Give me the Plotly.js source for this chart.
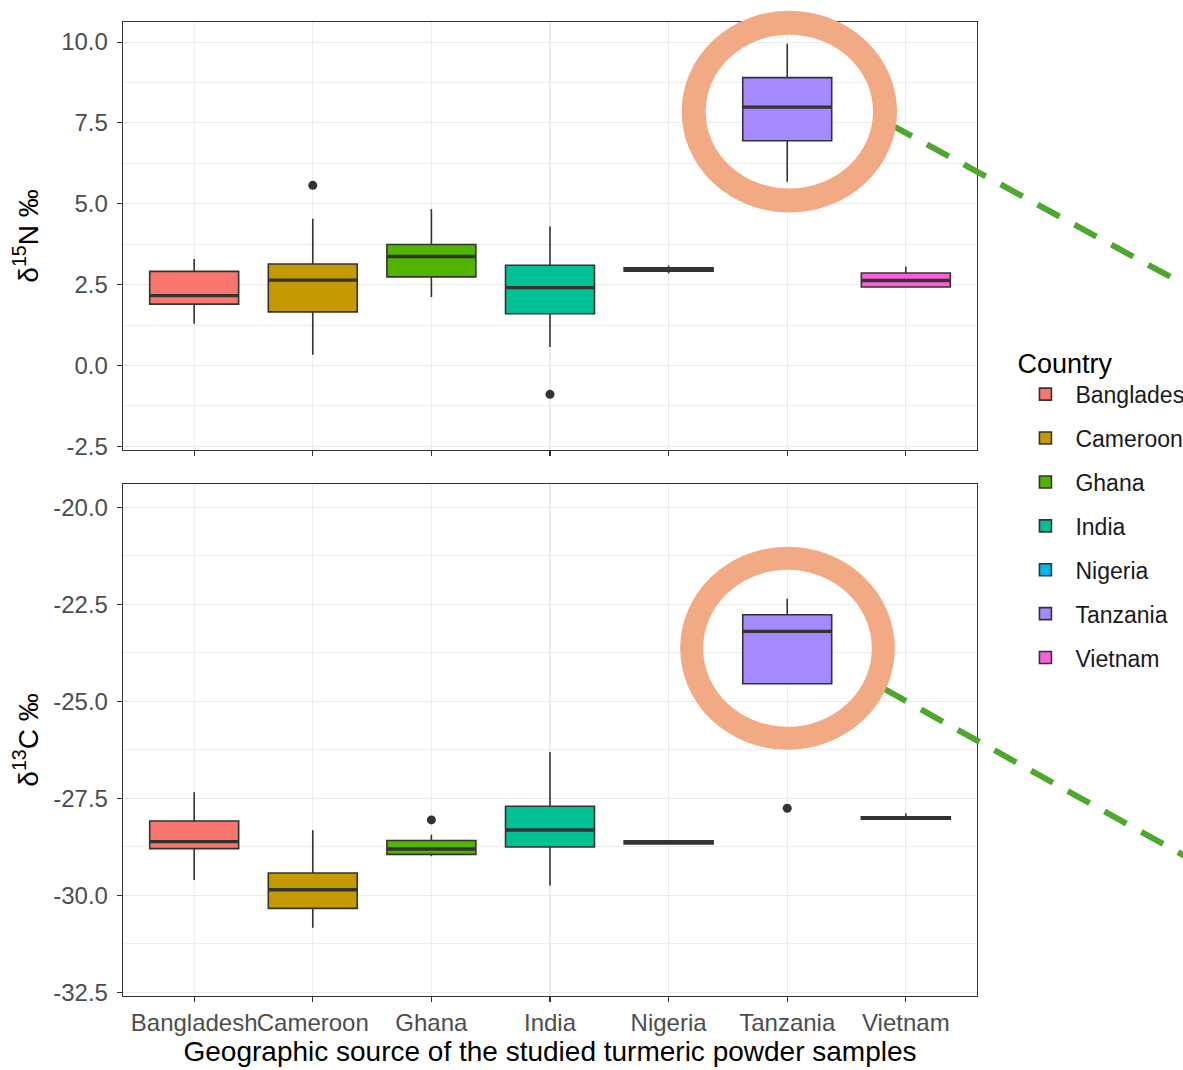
<!DOCTYPE html>
<html>
<head>
<meta charset="utf-8">
<script src="https://cdn.plot.ly/plotly-3.0.1.min.js"></script>
<style>html,body{margin:0;padding:0;background:#fff;}#chart{width:1183px;height:1070px;}</style>
</head>
<body>
<div id="chart"></div>
<script>
// ---- data ----
const countries = ['Bangladesh','Cameroon','Ghana','India','Nigeria','Tanzania','Vietnam'];
const colors = ['#F8766D','#C49A00','#53B400','#00C094','#00B6EB','#A58AFF','#FB61D7'];

// delta 15N (per mil)
const n15Lower = [1.29, 0.33, 2.12, 0.57, 2.85, 5.68, 2.43];
const n15Q1    = [1.90, 1.66, 2.74, 1.60, 2.92, 6.95, 2.43];
const n15Med   = [2.16, 2.64, 3.37, 2.41, 2.97, 7.99, 2.63];
const n15Q3    = [2.91, 3.14, 3.74, 3.10, 3.02, 8.90, 2.86];
const n15Upper = [3.29, 4.54, 4.84, 4.30, 3.09, 9.95, 3.06];
const n15OutX  = ['Cameroon','India'];
const n15OutY  = [5.57, -0.89];

// delta 13C (per mil)
const c13Lower = [-29.61, -30.84, -29.00, -29.75, -28.70, -24.55, -28.05];
const c13Q1    = [-28.80, -30.34, -28.95, -28.76, -28.68, -24.55, -28.04];
const c13Med   = [-28.62, -29.86, -28.81, -28.32, -28.64, -23.20, -28.01];
const c13Q3    = [-28.09, -29.43, -28.59, -27.71, -28.60, -22.77, -27.98];
const c13Upper = [-27.35, -28.33, -28.44, -26.31, -28.58, -22.36, -27.89];
const c13OutX  = ['Ghana','Tanzania'];
const c13OutY  = [-28.06, -27.76];

// tick labels
const n15TickVals = [-2.5, 0, 2.5, 5, 7.5, 10];
const n15TickText = ['-2.5','0.0','2.5','5.0','7.5','10.0'];
const c13TickVals = [-32.5, -30, -27.5, -25, -22.5, -20];
const c13TickText = ['-32.5','-30.0','-27.5','-25.0','-22.5','-20.0'];

// ---- traces ----
const FONT = '"Liberation Sans", Arial, sans-serif';
const INK = '#333333';
const traces = [];

countries.forEach((c, i) => {
  traces.push({
    type: 'box', x: [c], xaxis: 'x2', yaxis: 'y2',
    lowerfence: [n15Lower[i]], q1: [n15Q1[i]], median: [n15Med[i]],
    q3: [n15Q3[i]], upperfence: [n15Upper[i]],
    name: c, legendgroup: c, showlegend: true,
    fillcolor: colors[i], line: {color: INK, width: 1.6},
    whiskerwidth: 0, width: 0.75, boxpoints: false, hoverinfo: 'skip'
  });
  traces.push({
    type: 'box', x: [c], xaxis: 'x', yaxis: 'y',
    lowerfence: [c13Lower[i]], q1: [c13Q1[i]], median: [c13Med[i]],
    q3: [c13Q3[i]], upperfence: [c13Upper[i]],
    name: c, legendgroup: c, showlegend: false,
    fillcolor: colors[i], line: {color: INK, width: 1.6},
    whiskerwidth: 0, width: 0.75, boxpoints: false, hoverinfo: 'skip'
  });
});

// thicker median lines (as in ggplot)
const medMarker = {symbol: 'line-ew', size: 63.5, line: {color: INK, width: 3.4}, color: INK};
traces.push({type:'scatter', mode:'markers', x: countries, y: n15Med, xaxis:'x2', yaxis:'y2',
  marker: medMarker, showlegend:false, hoverinfo:'skip'});
traces.push({type:'scatter', mode:'markers', x: countries, y: c13Med, xaxis:'x', yaxis:'y',
  marker: medMarker, showlegend:false, hoverinfo:'skip'});

// outliers
traces.push({type:'scatter', mode:'markers', x: n15OutX, y: n15OutY, xaxis:'x2', yaxis:'y2',
  marker: {color: INK, size: 9}, showlegend:false, hoverinfo:'skip'});
traces.push({type:'scatter', mode:'markers', x: c13OutX, y: c13OutY, xaxis:'x', yaxis:'y',
  marker: {color: INK, size: 9}, showlegend:false, hoverinfo:'skip'});

// ---- layout ----
const tickFont = {family: FONT, size: 24, color: '#4D4D4D'};
const titleFont = {family: FONT, size: 28, color: '#000000'};
const grid = '#EBEBEB';

const xBase = {
  type: 'category', categoryorder: 'array', categoryarray: countries,
  range: [-0.6, 6.6], showgrid: true, gridcolor: grid, gridwidth: 1.1,
  showline: true, mirror: true, linecolor: INK, linewidth: 1.3,
  ticks: 'outside', ticklen: 5, tickwidth: 1.1, tickcolor: INK,
  tickfont: tickFont, tickangle: 0, zeroline: false, fixedrange: true
};
const yBase = {
  showgrid: true, gridcolor: grid, gridwidth: 1.1,
  showline: true, mirror: true, linecolor: INK, linewidth: 1.3,
  ticks: 'outside', ticklen: 5, tickwidth: 1.1, tickcolor: INK,
  tickfont: tickFont, zeroline: false, tickmode: 'array',
  minor: {tickmode: 'linear', tick0: 0, dtick: 1.25, showgrid: true, gridcolor: grid, gridwidth: 0.9, ticks: ''},
  ticklabelstandoff: 4, fixedrange: true
};

const layout = {
  width: 1183, height: 1070,
  margin: {l: 123, r: 206, t: 22, b: 74, autoexpand: false},
  paper_bgcolor: '#ffffff', plot_bgcolor: '#ffffff',
  font: {family: FONT},
  boxmode: 'overlay',
  xaxis: Object.assign({}, xBase, {anchor: 'y', domain: [0, 1],
    ticklabelstandoff: 0,
    title: {text: 'Geographic source of the studied turmeric powder samples', font: titleFont, standoff: 6}}),
  xaxis2: Object.assign({}, xBase, {anchor: 'y2', domain: [0, 1], matches: 'x', showticklabels: false}),
  yaxis: Object.assign({}, yBase, {anchor: 'x', domain: [0, 0.5257], range: [-32.60, -19.40],
    tickvals: c13TickVals, ticktext: c13TickText,
    title: {text: 'δ<sup>13</sup>C ‰', font: titleFont, standoff: 6}}),
  yaxis2: Object.assign({}, yBase, {anchor: 'x2', domain: [0.5606, 1], range: [-2.61, 10.62],
    tickvals: n15TickVals, ticktext: n15TickText,
    title: {text: 'δ<sup>15</sup>N ‰', font: titleFont, standoff: 14}}),
  legend: {
    x: 1.045, xanchor: 'left', y: 0.676, yanchor: 'top',
    font: {family: FONT, size: 23, color: '#1A1A1A'},
    title: {text: 'Country', font: {family: FONT, size: 27, color: '#000000'}},
    itemwidth: 50, tracegroupgap: 11, bgcolor: 'rgba(0,0,0,0)', traceorder: 'grouped'
  },
  shapes: [
    {type: 'line', xref: 'paper', yref: 'paper', x0: 0.8981, y0: 0.8950, x1: 1.3197, y1: 0.6939,
      line: {color: '#4EA72E', width: 6, dash: '25px,17px'}},
    {type: 'line', xref: 'paper', yref: 'paper', x0: 0.8914, y0: 0.3152, x1: 1.3197, y1: 0.1065,
      line: {color: '#4EA72E', width: 6, dash: '25px,17px'}},
    {type: 'circle', xref: 'paper', yref: 'paper', x0: 0.6682, x1: 0.8923, y0: 0.8167, y1: 0.9993,
      line: {color: '#F1AA84', width: 24}},
    {type: 'circle', xref: 'paper', yref: 'paper', x0: 0.6659, x1: 0.8903, y0: 0.2646, y1: 0.4494,
      line: {color: '#F1AA84', width: 23}}
  ]
};

Plotly.newPlot('chart', traces, layout, {staticPlot: true, displayModeBar: false});
</script>
</body>
</html>
